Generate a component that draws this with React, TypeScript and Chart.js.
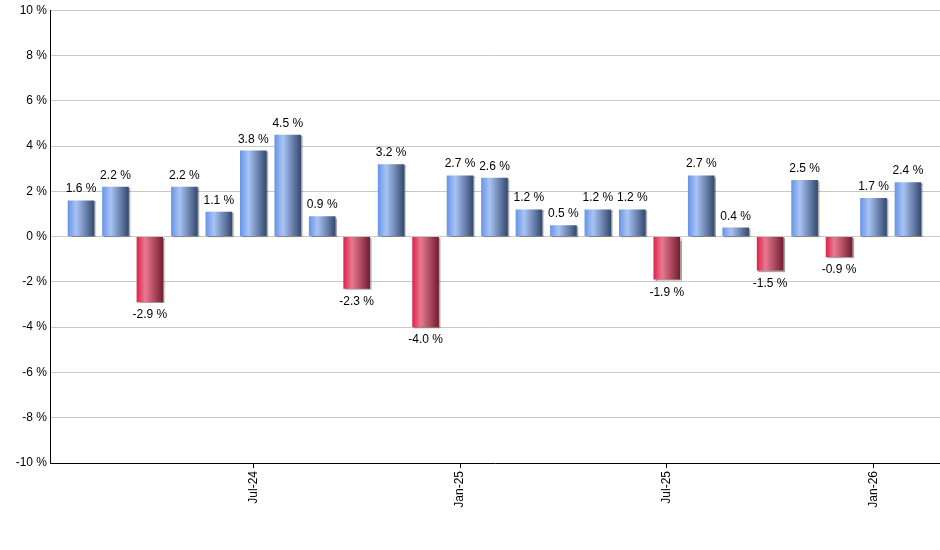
import React, { useEffect, useRef } from "react";
import { Chart, registerables } from "chart.js";

Chart.register(...registerables);

const months: string[] = [
  "Feb-24", "Mar-24", "Apr-24", "May-24", "Jun-24", "Jul-24", "Aug-24", "Sep-24", "Oct-24",
  "Nov-24", "Dec-24", "Jan-25", "Feb-25", "Mar-25", "Apr-25", "May-25", "Jun-25", "Jul-25",
  "Aug-25", "Sep-25", "Oct-25", "Nov-25", "Dec-25", "Jan-26", "Feb-26",
];
const returns: number[] = [
  1.6, 2.2, -2.9, 2.2, 1.1, 3.8, 4.5, 0.9, -2.3, 3.2, -4.0, 2.7, 2.6, 1.2, 0.5, 1.2, 1.2, -1.9,
  2.7, 0.4, -1.5, 2.5, -0.9, 1.7, 2.4,
];
const tickIndexes: number[] = [5, 11, 17, 23];
const yTicks: number[] = [-10, -8, -6, -4, -2, 0, 2, 4, 6, 8, 10];

const FONT = "'Liberation Sans', Arial, sans-serif";
const BAR_FRACTION = 0.772;

export default function App() {
  const canvasRef = useRef<HTMLCanvasElement | null>(null);

  useEffect(() => {
    if (!canvasRef.current) return;

    const gradientFor = (ctx: any) => {
      const chart = ctx.chart;
      const v = returns[ctx.dataIndex] ?? 0;
      const fallback = v >= 0 ? "#7FA3EC" : "#D9405F";
      const xs = chart.scales?.x;
      if (!xs || ctx.type !== "data") return fallback;
      const cx = xs.getPixelForValue(ctx.dataIndex);
      const unit = xs.getPixelForValue(1) - xs.getPixelForValue(0);
      const w = unit * BAR_FRACTION;
      if (!isFinite(cx) || !isFinite(w)) return fallback;
      const g = chart.ctx.createLinearGradient(cx - w / 2, 0, cx + w / 2, 0);
      if (v >= 0) {
        g.addColorStop(0, "#6693E8");
        g.addColorStop(0.32, "#A9C4F4");
        g.addColorStop(1, "#33486E");
      } else {
        g.addColorStop(0, "#E0204A");
        g.addColorStop(0.32, "#E87A90");
        g.addColorStop(1, "#731C30");
      }
      return g;
    };

    const shadowPlugin = {
      id: "barShadow",
      beforeDatasetDraw(chart: any) {
        const c = chart.ctx;
        c.save();
        c.shadowColor = "rgba(0,0,0,0.35)";
        c.shadowOffsetX = 1.5;
        c.shadowOffsetY = 1;
        c.shadowBlur = 1;
      },
      afterDatasetDraw(chart: any) {
        chart.ctx.restore();
      },
    };

    const labelPlugin = {
      id: "barLabels",
      afterDatasetsDraw(chart: any) {
        const c = chart.ctx;
        const meta = chart.getDatasetMeta(0);
        c.save();
        c.font = `12px ${FONT}`;
        c.fillStyle = "#000";
        c.textAlign = "center";
        c.textBaseline = "alphabetic";
        meta.data.forEach((bar: any, i: number) => {
          const v = returns[i];
          const text = `${v.toFixed(1)} %`;
          const y = v >= 0 ? bar.y - 8 : bar.y + 16;
          c.fillText(text, bar.x, y);
        });
        c.restore();
      },
    };

    const chart = new Chart(canvasRef.current, {
      type: "bar",
      data: {
        datasets: [
          {
            data: returns.map((v, i) => ({ x: i, y: v })),
            backgroundColor: gradientFor,
            borderWidth: 0,
            categoryPercentage: 1,
            barPercentage: BAR_FRACTION,
          } as any,
        ],
      },
      options: {
        animation: false,
        responsive: true,
        maintainAspectRatio: false,
        layout: { padding: { top: 9, left: 0, right: 0, bottom: 0 } },
        plugins: {
          legend: { display: false },
          tooltip: { enabled: false },
        },
        font: { family: FONT } as any,
        scales: {
          x: {
            type: "linear",
            min: -0.9,
            max: 24.93,
            offset: false,
            afterBuildTicks: (scale: any) => {
              scale.ticks = tickIndexes.map((v) => ({ value: v }));
            },
            afterFit: (scale: any) => {
              scale.height = 87;
            },
            grid: {
              display: true,
              drawOnChartArea: false,
              drawTicks: true,
              tickLength: 5,
              color: "#000",
              offset: false,
            },
            border: { display: true, color: "#000", width: 1 },
            ticks: {
              autoSkip: false,
              maxRotation: 90,
              minRotation: 90,
              padding: 3,
              color: "#000",
              font: { family: FONT, size: 12 },
              callback: (value: any) => months[Number(value)] ?? "",
            },
          } as any,
          y: {
            min: -10,
            max: 10,
            afterBuildTicks: (scale: any) => {
              scale.ticks = yTicks.map((v) => ({ value: v }));
            },
            afterFit: (scale: any) => {
              scale.width = 50;
            },
            grid: {
              color: "#C8C8C8",
              drawTicks: false,
              lineWidth: 1,
            },
            border: { display: true, color: "#000", width: 1 },
            ticks: {
              padding: 3,
              color: "#000",
              font: { family: FONT, size: 12 },
              callback: (value: any) => `${value} %`,
            },
          },
        },
      },
      plugins: [shadowPlugin, labelPlugin],
    });

    return () => chart.destroy();
  }, []);

  return (
    <div style={{ position: "absolute", left: 0, top: 0, width: 940, height: 550, background: "#fff" }}>
      <canvas ref={canvasRef} />
    </div>
  );
}
